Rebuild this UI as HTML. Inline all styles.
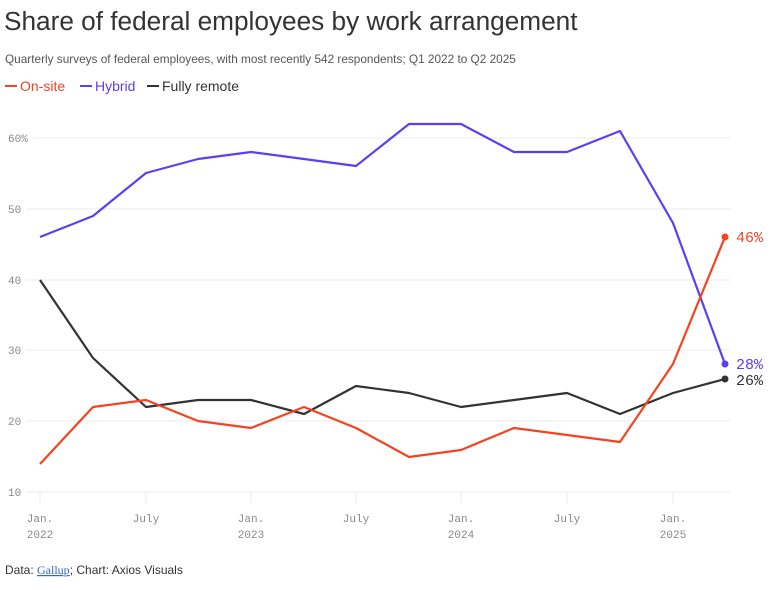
<!DOCTYPE html>
<html><head><meta charset="utf-8"><style>
body{margin:0;background:#fff;width:774px;height:585px;overflow:hidden;font-family:"Liberation Sans",sans-serif;}
</style></head><body>
<svg width="774" height="585" xmlns="http://www.w3.org/2000/svg">
<text x="4" y="30" font-size="26.2" fill="#333" font-family="Liberation Sans">Share of federal employees by work arrangement</text>
<text x="5" y="63" font-size="11.8" fill="#555" font-family="Liberation Sans">Quarterly surveys of federal employees, with most recently 542 respondents; Q1 2022 to Q2 2025</text>
<line x1="5" y1="86" x2="17" y2="86" stroke="#f5421f" stroke-width="2"/>
<text x="20" y="91" font-size="14" fill="#f5421f">On-site</text>
<line x1="80" y1="86" x2="92" y2="86" stroke="#5a3ff5" stroke-width="2"/>
<text x="95" y="91" font-size="14" fill="#5a3ff5">Hybrid</text>
<line x1="147" y1="86" x2="159" y2="86" stroke="#333" stroke-width="2"/>
<text x="162" y="91" font-size="14" fill="#333">Fully remote</text>
<g stroke="#ebebeb" stroke-width="1">
<line x1="33" y1="138" x2="730" y2="138"/><line x1="26" y1="209" x2="730" y2="209"/>
<line x1="26" y1="280" x2="730" y2="280"/><line x1="26" y1="350" x2="730" y2="350"/>
<line x1="26" y1="421" x2="730" y2="421"/><line x1="26" y1="492" x2="730" y2="492"/>
<line x1="40" y1="492" x2="40" y2="504"/><line x1="146" y1="492" x2="146" y2="504"/>
<line x1="251" y1="492" x2="251" y2="504"/><line x1="356" y1="492" x2="356" y2="504"/>
<line x1="461" y1="492" x2="461" y2="504"/><line x1="567" y1="492" x2="567" y2="504"/>
<line x1="673" y1="492" x2="673" y2="504"/>
</g>
<g font-family="Liberation Mono" font-size="11" fill="#888">
<text x="8" y="142">60%</text><text x="8" y="213">50</text><text x="8" y="284">40</text>
<text x="8" y="354">30</text><text x="8" y="425">20</text><text x="8" y="496">10</text>
</g>
<g font-family="Liberation Mono" font-size="11" fill="#888" text-anchor="middle">
<text x="40" y="522">Jan.</text><text x="40" y="538">2022</text>
<text x="146" y="522">July</text>
<text x="251" y="522">Jan.</text><text x="251" y="538">2023</text>
<text x="356" y="522">July</text>
<text x="461" y="522">Jan.</text><text x="461" y="538">2024</text>
<text x="567" y="522">July</text>
<text x="673" y="522">Jan.</text><text x="673" y="538">2025</text>
</g>
<g fill="none" stroke-width="2.2" stroke-linejoin="round">
<polyline stroke="#5a3ff5" points="40,237 93,216 146,173 198,159 251,152 304,159 356,166 409,124 461,124 514,152 567,152 620,131 673,223 725,364"/>
<polyline stroke="#333" points="40,280 93,358 146,407 198,400 251,400 304,414 356,386 409,393 461,407 514,400 567,393 620,414 673,393 725,379"/>
<polyline stroke="#f5421f" points="40,464 93,407 146,400 198,421 251,428 304,407 356,428 409,457 461,450 514,428 567,435 620,442 673,364 725,237"/>
</g>
<circle cx="725" cy="237" r="3.5" fill="#f5421f"/>
<circle cx="725" cy="364" r="3.5" fill="#5a3ff5"/>
<circle cx="725" cy="379" r="3.5" fill="#333"/>
<g font-family="Liberation Mono" font-size="15">
<text x="736" y="242" fill="#f5421f">46%</text>
<text x="736" y="369" fill="#5a3ff5">28%</text>
<text x="736" y="385" fill="#333">26%</text>
</g>
<text x="5" y="574" font-size="12" fill="#333">Data: <tspan fill="#3366cc" font-family="Liberation Serif" text-decoration="underline">Gallup</tspan>; Chart: Axios Visuals</text>
</svg>
</body></html>
